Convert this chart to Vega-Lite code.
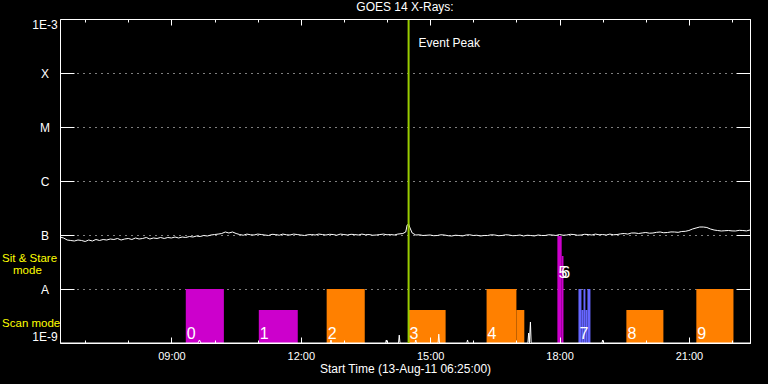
{
  "$schema": "https://vega.github.io/schema/vega-lite/v6.json",
  "width": 690,
  "height": 324,
  "autosize": {"type": "none"},
  "padding": {"left": 60, "top": 19, "right": 18, "bottom": 41},
  "background": "black",
  "title": {"text": "GOES 14 X-Rays:", "color": "white", "font": "Liberation Sans", "fontSize": 12, "fontWeight": "normal", "anchor": "middle", "offset": 4},
  "config": {
    "view": {"stroke": null},
    "axis": {"domainColor": "white", "tickColor": "white", "labelColor": "white", "titleColor": "white", "labelFont": "Liberation Sans", "titleFont": "Liberation Sans", "titleFontWeight": "normal", "domainWidth": 1, "tickWidth": 1, "grid": false},
    "text": {"font": "Liberation Sans"}
  },
  "datasets": {
    "flux": [
      {"t": "2011-08-13T06:25:00", "f": 9.18e-8},
      {"t": "2011-08-13T06:30:00", "f": 8.80e-8},
      {"t": "2011-08-13T06:35:00", "f": 8.08e-8},
      {"t": "2011-08-13T06:40:00", "f": 7.91e-8},
      {"t": "2011-08-13T06:45:00", "f": 7.74e-8},
      {"t": "2011-08-13T06:50:00", "f": 8.08e-8},
      {"t": "2011-08-13T06:55:00", "f": 7.91e-8},
      {"t": "2011-08-13T07:00:00", "f": 7.58e-8},
      {"t": "2011-08-13T07:05:00", "f": 8.08e-8},
      {"t": "2011-08-13T07:10:00", "f": 7.74e-8},
      {"t": "2011-08-13T07:15:00", "f": 8.25e-8},
      {"t": "2011-08-13T07:20:00", "f": 7.91e-8},
      {"t": "2011-08-13T07:25:00", "f": 8.25e-8},
      {"t": "2011-08-13T07:30:00", "f": 8.08e-8},
      {"t": "2011-08-13T07:35:00", "f": 8.43e-8},
      {"t": "2011-08-13T07:40:00", "f": 8.25e-8},
      {"t": "2011-08-13T07:45:00", "f": 8.62e-8},
      {"t": "2011-08-13T07:50:00", "f": 8.08e-8},
      {"t": "2011-08-13T07:55:00", "f": 8.43e-8},
      {"t": "2011-08-13T08:00:00", "f": 8.62e-8},
      {"t": "2011-08-13T08:05:00", "f": 8.25e-8},
      {"t": "2011-08-13T08:10:00", "f": 8.80e-8},
      {"t": "2011-08-13T08:15:00", "f": 8.43e-8},
      {"t": "2011-08-13T08:20:00", "f": 8.62e-8},
      {"t": "2011-08-13T08:25:00", "f": 8.99e-8},
      {"t": "2011-08-13T08:30:00", "f": 8.43e-8},
      {"t": "2011-08-13T08:35:00", "f": 8.80e-8},
      {"t": "2011-08-13T08:40:00", "f": 8.62e-8},
      {"t": "2011-08-13T08:45:00", "f": 8.99e-8},
      {"t": "2011-08-13T08:50:00", "f": 8.62e-8},
      {"t": "2011-08-13T08:55:00", "f": 8.99e-8},
      {"t": "2011-08-13T09:00:00", "f": 8.80e-8},
      {"t": "2011-08-13T09:05:00", "f": 9.18e-8},
      {"t": "2011-08-13T09:10:00", "f": 8.80e-8},
      {"t": "2011-08-13T09:15:00", "f": 9.18e-8},
      {"t": "2011-08-13T09:20:00", "f": 8.99e-8},
      {"t": "2011-08-13T09:25:00", "f": 9.38e-8},
      {"t": "2011-08-13T09:30:00", "f": 9.18e-8},
      {"t": "2011-08-13T09:35:00", "f": 9.58e-8},
      {"t": "2011-08-13T09:40:00", "f": 9.38e-8},
      {"t": "2011-08-13T09:45:00", "f": 9.79e-8},
      {"t": "2011-08-13T09:50:00", "f": 9.58e-8},
      {"t": "2011-08-13T09:55:00", "f": 1.0e-7},
      {"t": "2011-08-13T10:00:00", "f": 1.02e-7},
      {"t": "2011-08-13T10:05:00", "f": 1.04e-7},
      {"t": "2011-08-13T10:10:00", "f": 1.066e-7},
      {"t": "2011-08-13T10:15:00", "f": 1.137e-7},
      {"t": "2011-08-13T10:20:00", "f": 1.089e-7},
      {"t": "2011-08-13T10:25:00", "f": 1.137e-7},
      {"t": "2011-08-13T10:30:00", "f": 1.066e-7},
      {"t": "2011-08-13T10:35:00", "f": 1.02e-7},
      {"t": "2011-08-13T10:40:00", "f": 9.9e-8},
      {"t": "2011-08-13T10:45:00", "f": 1.04e-7},
      {"t": "2011-08-13T10:50:00", "f": 1.01e-7},
      {"t": "2011-08-13T10:55:00", "f": 1.0e-7},
      {"t": "2011-08-13T11:00:00", "f": 1.04e-7},
      {"t": "2011-08-13T11:05:00", "f": 1.02e-7},
      {"t": "2011-08-13T11:10:00", "f": 1.0e-7},
      {"t": "2011-08-13T11:15:00", "f": 9.79e-8},
      {"t": "2011-08-13T11:20:00", "f": 1.03e-7},
      {"t": "2011-08-13T11:25:00", "f": 1.02e-7},
      {"t": "2011-08-13T11:30:00", "f": 9.9e-8},
      {"t": "2011-08-13T11:35:00", "f": 1.04e-7},
      {"t": "2011-08-13T11:40:00", "f": 1.01e-7},
      {"t": "2011-08-13T11:45:00", "f": 1.0e-7},
      {"t": "2011-08-13T11:50:00", "f": 1.04e-7},
      {"t": "2011-08-13T11:55:00", "f": 1.02e-7},
      {"t": "2011-08-13T12:00:00", "f": 1.0e-7},
      {"t": "2011-08-13T12:05:00", "f": 9.79e-8},
      {"t": "2011-08-13T12:10:00", "f": 1.01e-7},
      {"t": "2011-08-13T12:15:00", "f": 1.02e-7},
      {"t": "2011-08-13T12:20:00", "f": 1.0e-7},
      {"t": "2011-08-13T12:25:00", "f": 1.04e-7},
      {"t": "2011-08-13T12:30:00", "f": 1.02e-7},
      {"t": "2011-08-13T12:35:00", "f": 1.0e-7},
      {"t": "2011-08-13T12:40:00", "f": 1.03e-7},
      {"t": "2011-08-13T12:45:00", "f": 1.02e-7},
      {"t": "2011-08-13T12:50:00", "f": 9.9e-8},
      {"t": "2011-08-13T12:55:00", "f": 1.04e-7},
      {"t": "2011-08-13T13:00:00", "f": 1.02e-7},
      {"t": "2011-08-13T13:05:00", "f": 1.0e-7},
      {"t": "2011-08-13T13:10:00", "f": 1.03e-7},
      {"t": "2011-08-13T13:15:00", "f": 1.02e-7},
      {"t": "2011-08-13T13:20:00", "f": 1.0e-7},
      {"t": "2011-08-13T13:25:00", "f": 1.04e-7},
      {"t": "2011-08-13T13:30:00", "f": 1.01e-7},
      {"t": "2011-08-13T13:35:00", "f": 1.02e-7},
      {"t": "2011-08-13T13:40:00", "f": 9.9e-8},
      {"t": "2011-08-13T13:45:00", "f": 1.0e-7},
      {"t": "2011-08-13T13:50:00", "f": 1.02e-7},
      {"t": "2011-08-13T13:55:00", "f": 1.04e-7},
      {"t": "2011-08-13T14:00:00", "f": 1.01e-7},
      {"t": "2011-08-13T14:05:00", "f": 1.02e-7},
      {"t": "2011-08-13T14:10:00", "f": 1.0e-7},
      {"t": "2011-08-13T14:15:00", "f": 1.04e-7},
      {"t": "2011-08-13T14:22:00", "f": 1.066e-7},
      {"t": "2011-08-13T14:26:00", "f": 1.137e-7},
      {"t": "2011-08-13T14:28:00", "f": 1.53e-7},
      {"t": "2011-08-13T14:30:00", "f": 1.598e-7},
      {"t": "2011-08-13T14:32:00", "f": 1.348e-7},
      {"t": "2011-08-13T14:35:00", "f": 1.089e-7},
      {"t": "2011-08-13T14:40:00", "f": 1.0e-7},
      {"t": "2011-08-13T14:45:00", "f": 1.01e-7},
      {"t": "2011-08-13T14:50:00", "f": 9.79e-8},
      {"t": "2011-08-13T14:55:00", "f": 9.9e-8},
      {"t": "2011-08-13T15:00:00", "f": 1.0e-7},
      {"t": "2011-08-13T15:05:00", "f": 9.7e-8},
      {"t": "2011-08-13T15:10:00", "f": 9.79e-8},
      {"t": "2011-08-13T15:15:00", "f": 1.01e-7},
      {"t": "2011-08-13T15:20:00", "f": 1.0e-7},
      {"t": "2011-08-13T15:25:00", "f": 9.7e-8},
      {"t": "2011-08-13T15:30:00", "f": 9.58e-8},
      {"t": "2011-08-13T15:35:00", "f": 9.9e-8},
      {"t": "2011-08-13T15:40:00", "f": 9.79e-8},
      {"t": "2011-08-13T15:45:00", "f": 9.6e-8},
      {"t": "2011-08-13T15:50:00", "f": 1.0e-7},
      {"t": "2011-08-13T15:55:00", "f": 1.01e-7},
      {"t": "2011-08-13T16:00:00", "f": 9.79e-8},
      {"t": "2011-08-13T16:05:00", "f": 9.9e-8},
      {"t": "2011-08-13T16:10:00", "f": 9.58e-8},
      {"t": "2011-08-13T16:15:00", "f": 9.8e-8},
      {"t": "2011-08-13T16:20:00", "f": 9.79e-8},
      {"t": "2011-08-13T16:25:00", "f": 1.01e-7},
      {"t": "2011-08-13T16:30:00", "f": 1.0e-7},
      {"t": "2011-08-13T16:35:00", "f": 9.7e-8},
      {"t": "2011-08-13T16:40:00", "f": 9.79e-8},
      {"t": "2011-08-13T16:45:00", "f": 1.01e-7},
      {"t": "2011-08-13T16:50:00", "f": 1.0e-7},
      {"t": "2011-08-13T16:55:00", "f": 9.7e-8},
      {"t": "2011-08-13T17:00:00", "f": 9.79e-8},
      {"t": "2011-08-13T17:05:00", "f": 1.0e-7},
      {"t": "2011-08-13T17:10:00", "f": 9.58e-8},
      {"t": "2011-08-13T17:15:00", "f": 9.9e-8},
      {"t": "2011-08-13T17:20:00", "f": 9.79e-8},
      {"t": "2011-08-13T17:25:00", "f": 9.6e-8},
      {"t": "2011-08-13T17:30:00", "f": 1.0e-7},
      {"t": "2011-08-13T17:35:00", "f": 9.8e-8},
      {"t": "2011-08-13T17:40:00", "f": 9.79e-8},
      {"t": "2011-08-13T17:45:00", "f": 1.01e-7},
      {"t": "2011-08-13T17:50:00", "f": 1.0e-7},
      {"t": "2011-08-13T17:55:00", "f": 9.8e-8},
      {"t": "2011-08-13T18:00:00", "f": 1.02e-7},
      {"t": "2011-08-13T18:05:00", "f": 9.9e-8},
      {"t": "2011-08-13T18:10:00", "f": 1.0e-7},
      {"t": "2011-08-13T18:15:00", "f": 1.03e-7},
      {"t": "2011-08-13T18:20:00", "f": 1.02e-7},
      {"t": "2011-08-13T18:25:00", "f": 9.9e-8},
      {"t": "2011-08-13T18:30:00", "f": 1.0e-7},
      {"t": "2011-08-13T18:35:00", "f": 1.03e-7},
      {"t": "2011-08-13T18:40:00", "f": 1.02e-7},
      {"t": "2011-08-13T18:45:00", "f": 1.0e-7},
      {"t": "2011-08-13T18:50:00", "f": 1.04e-7},
      {"t": "2011-08-13T18:55:00", "f": 1.01e-7},
      {"t": "2011-08-13T19:00:00", "f": 1.02e-7},
      {"t": "2011-08-13T19:05:00", "f": 1.0e-7},
      {"t": "2011-08-13T19:10:00", "f": 1.04e-7},
      {"t": "2011-08-13T19:15:00", "f": 1.01e-7},
      {"t": "2011-08-13T19:20:00", "f": 1.02e-7},
      {"t": "2011-08-13T19:25:00", "f": 1.05e-7},
      {"t": "2011-08-13T19:30:00", "f": 1.066e-7},
      {"t": "2011-08-13T19:35:00", "f": 1.04e-7},
      {"t": "2011-08-13T19:40:00", "f": 1.089e-7},
      {"t": "2011-08-13T19:45:00", "f": 1.09e-7},
      {"t": "2011-08-13T19:50:00", "f": 1.066e-7},
      {"t": "2011-08-13T19:55:00", "f": 1.09e-7},
      {"t": "2011-08-13T20:00:00", "f": 1.1125e-7},
      {"t": "2011-08-13T20:05:00", "f": 1.08e-7},
      {"t": "2011-08-13T20:10:00", "f": 1.089e-7},
      {"t": "2011-08-13T20:15:00", "f": 1.12e-7},
      {"t": "2011-08-13T20:20:00", "f": 1.137e-7},
      {"t": "2011-08-13T20:25:00", "f": 1.1e-7},
      {"t": "2011-08-13T20:30:00", "f": 1.1125e-7},
      {"t": "2011-08-13T20:35:00", "f": 1.14e-7},
      {"t": "2011-08-13T20:40:00", "f": 1.137e-7},
      {"t": "2011-08-13T20:45:00", "f": 1.12e-7},
      {"t": "2011-08-13T20:50:00", "f": 1.161e-7},
      {"t": "2011-08-13T20:55:00", "f": 1.17e-7},
      {"t": "2011-08-13T21:00:00", "f": 1.2115e-7},
      {"t": "2011-08-13T21:05:00", "f": 1.2915e-7},
      {"t": "2011-08-13T21:10:00", "f": 1.348e-7},
      {"t": "2011-08-13T21:15:00", "f": 1.406e-7},
      {"t": "2011-08-13T21:20:00", "f": 1.406e-7},
      {"t": "2011-08-13T21:25:00", "f": 1.377e-7},
      {"t": "2011-08-13T21:30:00", "f": 1.2915e-7},
      {"t": "2011-08-13T21:35:00", "f": 1.2376e-7},
      {"t": "2011-08-13T21:40:00", "f": 1.21e-7},
      {"t": "2011-08-13T21:45:00", "f": 1.186e-7},
      {"t": "2011-08-13T21:50:00", "f": 1.2e-7},
      {"t": "2011-08-13T21:55:00", "f": 1.2115e-7},
      {"t": "2011-08-13T22:00:00", "f": 1.19e-7},
      {"t": "2011-08-13T22:05:00", "f": 1.186e-7},
      {"t": "2011-08-13T22:10:00", "f": 1.22e-7},
      {"t": "2011-08-13T22:15:00", "f": 1.2115e-7},
      {"t": "2011-08-13T22:20:00", "f": 1.19e-7},
      {"t": "2011-08-13T22:25:00", "f": 1.2376e-7}
    ],
    "low": [
      {"t": "2011-08-13T06:25:00", "f": 1e-9},
      {"t": "2011-08-13T09:37:00", "f": 1e-9},
      {"t": "2011-08-13T09:39:00", "f": 1.137e-9},
      {"t": "2011-08-13T09:41:00", "f": 1e-9},
      {"t": "2011-08-13T12:41:00", "f": 1e-9},
      {"t": "2011-08-13T12:42:00", "f": 1.137e-9},
      {"t": "2011-08-13T12:43:00", "f": 1e-9},
      {"t": "2011-08-13T13:58:00", "f": 1e-9},
      {"t": "2011-08-13T13:59:00", "f": 1.137e-9},
      {"t": "2011-08-13T14:00:00", "f": 1e-9},
      {"t": "2011-08-13T14:16:00", "f": 1e-9},
      {"t": "2011-08-13T14:17:00", "f": 1.4e-9},
      {"t": "2011-08-13T14:18:00", "f": 1e-9},
      {"t": "2011-08-13T14:39:00", "f": 1e-9},
      {"t": "2011-08-13T14:40:00", "f": 1.137e-9},
      {"t": "2011-08-13T14:41:00", "f": 1e-9},
      {"t": "2011-08-13T15:11:00", "f": 1e-9},
      {"t": "2011-08-13T15:12:00", "f": 1.46e-9},
      {"t": "2011-08-13T15:13:00", "f": 1e-9},
      {"t": "2011-08-13T15:51:00", "f": 1e-9},
      {"t": "2011-08-13T15:52:00", "f": 1.137e-9},
      {"t": "2011-08-13T15:53:00", "f": 1e-9},
      {"t": "2011-08-13T17:16:00", "f": 1e-9},
      {"t": "2011-08-13T17:17:00", "f": 1.53e-9},
      {"t": "2011-08-13T17:18:00", "f": 1e-9},
      {"t": "2011-08-13T17:19:30", "f": 2.45e-9},
      {"t": "2011-08-13T17:20:30", "f": 1e-9},
      {"t": "2011-08-13T18:59:00", "f": 1e-9},
      {"t": "2011-08-13T19:00:00", "f": 1.137e-9},
      {"t": "2011-08-13T19:01:00", "f": 1e-9},
      {"t": "2011-08-13T22:25:00", "f": 1e-9}
    ],
    "bars": [
      {"t0": "2011-08-13T09:20:00", "t1": "2011-08-13T10:13:00", "top": 1e-8, "kind": "sitstare"},
      {"t0": "2011-08-13T11:01:36", "t1": "2011-08-13T11:55:48", "top": 4.08e-9, "kind": "sitstare"},
      {"t0": "2011-08-13T12:36:00", "t1": "2011-08-13T13:29:00", "top": 1e-8, "kind": "scan"},
      {"t0": "2011-08-13T14:30:00", "t1": "2011-08-13T15:21:30", "top": 4.08e-9, "kind": "scan"},
      {"t0": "2011-08-13T16:18:30", "t1": "2011-08-13T17:00:00", "top": 1e-8, "kind": "scan"},
      {"t0": "2011-08-13T17:00:00", "t1": "2011-08-13T17:11:00", "top": 4.08e-9, "kind": "scan"},
      {"t0": "2011-08-13T17:57:00", "t1": "2011-08-13T18:03:00", "top": 9.58e-8, "kind": "sitstare"},
      {"t0": "2011-08-13T18:03:00", "t1": "2011-08-13T18:05:30", "top": 4.08e-8, "kind": "sitstare"},
      {"t0": "2011-08-13T18:26:20", "t1": "2011-08-13T18:30:30", "top": 1e-8, "kind": "other"},
      {"t0": "2011-08-13T18:30:30", "t1": "2011-08-13T18:33:20", "top": 4.08e-9, "kind": "other"},
      {"t0": "2011-08-13T18:33:20", "t1": "2011-08-13T18:36:00", "top": 1e-8, "kind": "other"},
      {"t0": "2011-08-13T18:36:00", "t1": "2011-08-13T18:38:50", "top": 4.08e-9, "kind": "other"},
      {"t0": "2011-08-13T18:38:50", "t1": "2011-08-13T18:43:00", "top": 1e-8, "kind": "other"},
      {"t0": "2011-08-13T19:33:00", "t1": "2011-08-13T20:24:30", "top": 4.08e-9, "kind": "scan"},
      {"t0": "2011-08-13T21:10:20", "t1": "2011-08-13T22:02:00", "top": 1e-8, "kind": "scan"}
    ],
    "labels": [
      {"t": "2011-08-13T09:20:00", "f": 1.186e-9, "n": "0"},
      {"t": "2011-08-13T11:01:36", "f": 1.186e-9, "n": "1"},
      {"t": "2011-08-13T12:36:00", "f": 1.186e-9, "n": "2"},
      {"t": "2011-08-13T14:30:00", "f": 1.186e-9, "n": "3"},
      {"t": "2011-08-13T16:18:30", "f": 1.186e-9, "n": "4"},
      {"t": "2011-08-13T17:57:00", "f": 1.6e-8, "n": "5"},
      {"t": "2011-08-13T18:01:00", "f": 1.6e-8, "n": "6"},
      {"t": "2011-08-13T18:26:20", "f": 1.186e-9, "n": "7"},
      {"t": "2011-08-13T19:33:00", "f": 1.186e-9, "n": "8"},
      {"t": "2011-08-13T21:10:20", "f": 1.186e-9, "n": "9"}
    ],
    "event": [
      {"t": "2011-08-13T14:30:00", "f": 3.59e-4, "label": "Event Peak"}
    ],
    "side": [
      {"t": "2011-08-13T05:04:24", "f": 3.59e-8, "text": "Sit & Stare"},
      {"t": "2011-08-13T05:19:40", "f": 2.15e-8, "text": "mode"},
      {"t": "2011-08-13T05:04:24", "f": 2.25e-9, "text": "Scan mode"}
    ]
  },
  "layer": [
    {
      "data": {"name": "bars"},
      "mark": {"type": "rect"},
      "encoding": {
        "x": {"field": "t0", "type": "temporal",
          "scale": {"domain": [{"year": 2011, "month": 8, "date": 13, "hours": 6, "minutes": 25}, {"year": 2011, "month": 8, "date": 13, "hours": 22, "minutes": 25}], "nice": false},
          "axis": {"orient": "bottom", "values": [{"year": 2011, "month": 8, "date": 13, "hours": 9}, {"year": 2011, "month": 8, "date": 13, "hours": 12}, {"year": 2011, "month": 8, "date": 13, "hours": 15}, {"year": 2011, "month": 8, "date": 13, "hours": 18}, {"year": 2011, "month": 8, "date": 13, "hours": 21}], "format": "%H:%M", "tickSize": -6, "labelPadding": 13, "labelFontSize": 11, "labelFlush": false, "labelOverlap": false, "title": "Start Time (13-Aug-11 06:25:00)", "titleFontSize": 12, "titlePadding": 2, "zindex": 1}},
        "x2": {"field": "t1"},
        "y": {"field": "top", "type": "quantitative",
          "scale": {"type": "log", "domain": [1e-9, 1e-3], "nice": false},
          "axis": {"orient": "left", "values": [1e-9, 1e-8, 1e-7, 1e-6, 1e-5, 1e-4, 1e-3], "labelExpr": "datum.value > 0.0009 ? '1E-3' : datum.value > 0.00009 ? 'X' : datum.value > 0.000009 ? 'M' : datum.value > 0.0000009 ? 'C' : datum.value > 0.00000009 ? 'B' : datum.value > 0.000000009 ? 'A' : '1E-9'", "tickSize": -14, "labelPadding": 29.5, "labelAlign": "center", "labelFlush": true, "labelFontSize": 12, "title": null, "zindex": 1}},
        "y2": {"datum": 1e-9},
        "color": {"field": "kind", "type": "nominal", "scale": {"domain": ["sitstare", "scan", "other"], "range": ["#cc00cc", "#ff8000", "#6666ff"]}, "legend": null}
      }
    },
    {
      "data": {"name": "low"},
      "mark": {"type": "line", "color": "white", "strokeWidth": 1, "clip": true},
      "encoding": {
        "x": {"field": "t", "type": "temporal",
          "scale": {"domain": [{"year": 2011, "month": 8, "date": 13, "hours": 6, "minutes": 25}, {"year": 2011, "month": 8, "date": 13, "hours": 22, "minutes": 25}], "nice": false},
          "axis": {"orient": "top", "values": [{"year": 2011, "month": 8, "date": 13, "hours": 7}, {"year": 2011, "month": 8, "date": 13, "hours": 8}, {"year": 2011, "month": 8, "date": 13, "hours": 10}, {"year": 2011, "month": 8, "date": 13, "hours": 11}, {"year": 2011, "month": 8, "date": 13, "hours": 13}, {"year": 2011, "month": 8, "date": 13, "hours": 14}, {"year": 2011, "month": 8, "date": 13, "hours": 16}, {"year": 2011, "month": 8, "date": 13, "hours": 17}, {"year": 2011, "month": 8, "date": 13, "hours": 19}, {"year": 2011, "month": 8, "date": 13, "hours": 20}, {"year": 2011, "month": 8, "date": 13, "hours": 22}], "tickSize": -3, "labels": false, "domain": false, "title": null, "zindex": 1}},
        "y": {"field": "f", "type": "quantitative", "scale": {"type": "log", "domain": [1e-9, 1e-3], "nice": false}, "axis": null}
      }
    },
    {
      "data": {"name": "flux"},
      "mark": {"type": "line", "color": "white", "strokeWidth": 1},
      "encoding": {
        "x": {"field": "t", "type": "temporal",
          "scale": {"domain": [{"year": 2011, "month": 8, "date": 13, "hours": 6, "minutes": 25}, {"year": 2011, "month": 8, "date": 13, "hours": 22, "minutes": 25}], "nice": false},
          "axis": {"orient": "bottom", "values": [{"year": 2011, "month": 8, "date": 13, "hours": 7}, {"year": 2011, "month": 8, "date": 13, "hours": 8}, {"year": 2011, "month": 8, "date": 13, "hours": 10}, {"year": 2011, "month": 8, "date": 13, "hours": 11}, {"year": 2011, "month": 8, "date": 13, "hours": 13}, {"year": 2011, "month": 8, "date": 13, "hours": 14}, {"year": 2011, "month": 8, "date": 13, "hours": 16}, {"year": 2011, "month": 8, "date": 13, "hours": 17}, {"year": 2011, "month": 8, "date": 13, "hours": 19}, {"year": 2011, "month": 8, "date": 13, "hours": 20}, {"year": 2011, "month": 8, "date": 13, "hours": 22}], "tickSize": -3, "labels": false, "domain": false, "title": null, "zindex": 1}},
        "y": {"field": "f", "type": "quantitative", "scale": {"type": "log", "domain": [1e-9, 1e-3], "nice": false},
          "axis": {"orient": "right", "values": [1e-9, 1e-8, 1e-7, 1e-6, 1e-5, 1e-4, 1e-3], "tickSize": -14, "labels": false, "domain": true, "title": null, "grid": true, "gridColor": "white", "gridDash": [1, 5], "gridOpacity": 1, "gridWidth": 1, "zindex": 0}}
      }
    },
    {
      "data": {"name": "event"},
      "mark": {"type": "rule", "color": "#99cc00", "strokeWidth": 2},
      "encoding": {
        "x": {"field": "t", "type": "temporal",
          "scale": {"domain": [{"year": 2011, "month": 8, "date": 13, "hours": 6, "minutes": 25}, {"year": 2011, "month": 8, "date": 13, "hours": 22, "minutes": 25}], "nice": false},
          "axis": {"orient": "top", "values": [{"year": 2011, "month": 8, "date": 13, "hours": 9}, {"year": 2011, "month": 8, "date": 13, "hours": 12}, {"year": 2011, "month": 8, "date": 13, "hours": 15}, {"year": 2011, "month": 8, "date": 13, "hours": 18}, {"year": 2011, "month": 8, "date": 13, "hours": 21}], "tickSize": -6, "labels": false, "domain": true, "title": null, "zindex": 1}}
      }
    },
    {
      "data": {"name": "event"},
      "mark": {"type": "text", "color": "white", "fontSize": 12, "align": "left", "baseline": "middle", "dx": 10},
      "encoding": {
        "x": {"field": "t", "type": "temporal", "scale": {"domain": [{"year": 2011, "month": 8, "date": 13, "hours": 6, "minutes": 25}, {"year": 2011, "month": 8, "date": 13, "hours": 22, "minutes": 25}], "nice": false}, "axis": null},
        "y": {"field": "f", "type": "quantitative", "scale": {"type": "log", "domain": [1e-9, 1e-3], "nice": false}, "axis": null},
        "text": {"field": "label"}
      }
    },
    {
      "data": {"name": "labels"},
      "mark": {"type": "text", "color": "white", "fontSize": 16, "align": "left", "baseline": "alphabetic", "dx": 1},
      "encoding": {
        "x": {"field": "t", "type": "temporal", "scale": {"domain": [{"year": 2011, "month": 8, "date": 13, "hours": 6, "minutes": 25}, {"year": 2011, "month": 8, "date": 13, "hours": 22, "minutes": 25}], "nice": false}, "axis": null},
        "y": {"field": "f", "type": "quantitative", "scale": {"type": "log", "domain": [1e-9, 1e-3], "nice": false}, "axis": null},
        "text": {"field": "n"}
      }
    },
    {
      "data": {"name": "side"},
      "mark": {"type": "text", "color": "#ffff00", "fontSize": 11.5, "align": "left", "baseline": "middle", "clip": false},
      "encoding": {
        "x": {"field": "t", "type": "temporal", "scale": {"domain": [{"year": 2011, "month": 8, "date": 13, "hours": 6, "minutes": 25}, {"year": 2011, "month": 8, "date": 13, "hours": 22, "minutes": 25}], "nice": false}, "axis": null},
        "y": {"field": "f", "type": "quantitative", "scale": {"type": "log", "domain": [1e-9, 1e-3], "nice": false}, "axis": null},
        "text": {"field": "text"}
      }
    }
  ],
  "resolve": {"axis": {"x": "independent", "y": "independent"}}
}
